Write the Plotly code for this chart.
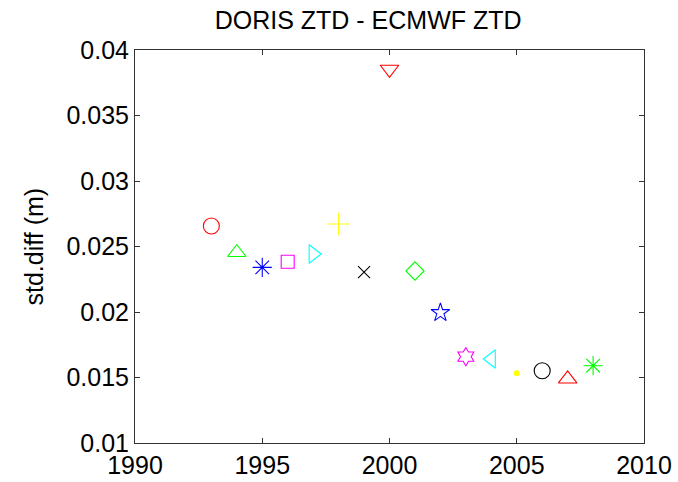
import plotly.graph_objects as go

years = [1993, 1994, 1995, 1996, 1997, 1998, 1999, 2000, 2001, 2002, 2003, 2004, 2005, 2006, 2007, 2008]
std_diff = [0.02656, 0.02454, 0.02341, 0.02384, 0.02443, 0.02672, 0.02305, 0.03853,
            0.02313, 0.01995, 0.01659, 0.01641, 0.01532, 0.01552, 0.01489, 0.0159]
colors = ["#FF0000", "#00FF00", "#0000FF", "#FF00FF", "#00FFFF", "#FFFF00", "#000000", "#FF0000",
          "#00FF00", "#0000FF", "#FF00FF", "#00FFFF", "#FFFF00", "#000000", "#FF0000", "#00FF00"]
symbols = ["circle-open", "triangle-up-open", "asterisk-open", "square-open", "triangle-right-open",
           "cross-thin-open", "x-thin-open", "triangle-down-open", "diamond-open", "star-open",
           "hexagram-open", "triangle-left-open", "circle", "circle-open", "triangle-up-open", "asterisk-open"]
sizes = [16, 16, 16, 13, 16, 16, 12, 16, 14, 14, 14, 16, 5, 16, 16, 16]

fig = go.Figure()
for x, y, c, s, sz in zip(years, std_diff, colors, symbols, sizes):
    fig.add_trace(go.Scatter(x=[x], y=[y], mode="markers",
                             marker=dict(symbol=s, color=c, size=sz, line=dict(color=c, width=1.1)),
                             showlegend=False))

fig.update_layout(
    width=678, height=482,
    margin=dict(l=135, r=34, t=50, b=39, autoexpand=False),
    paper_bgcolor="white", plot_bgcolor="white",
    font=dict(family="Liberation Sans, Arial, sans-serif", size=25, color="black"),
    title=dict(text="DORIS ZTD - ECMWF ZTD", x=0.543, xanchor="center",
               y=1 - 20 / 482, yanchor="middle", yref="container",
               font=dict(size=25)),
)
fig.update_xaxes(range=[1990, 2010], tickvals=[1990, 1995, 2000, 2005, 2010], showgrid=False, zeroline=False,
                 showline=True, linecolor="#333333", linewidth=1, mirror="ticks", ticks="inside", ticklen=5,
                 tickcolor="#333333", automargin=False)
fig.update_yaxes(range=[0.01, 0.04], tickvals=[0.01, 0.015, 0.02, 0.025, 0.03, 0.035, 0.04],
                 ticktext=["0.01", "0.015", "0.02", "0.025", "0.03", "0.035", "0.04"],
                 showgrid=False, zeroline=False,
                 showline=True, linecolor="#333333", linewidth=1, mirror="ticks", ticks="inside", ticklen=5,
                 tickcolor="#333333", automargin=False)
fig.add_annotation(text="std.diff (m)", textangle=-90, xref="paper", yref="paper",
                   x=(33 - 135) / 509, y=0.5, xanchor="center", yanchor="middle",
                   showarrow=False, font=dict(size=25))

fig.write_html("out.html", config={"displayModeBar": False},
               post_script="document.body.style.margin='0px';")
